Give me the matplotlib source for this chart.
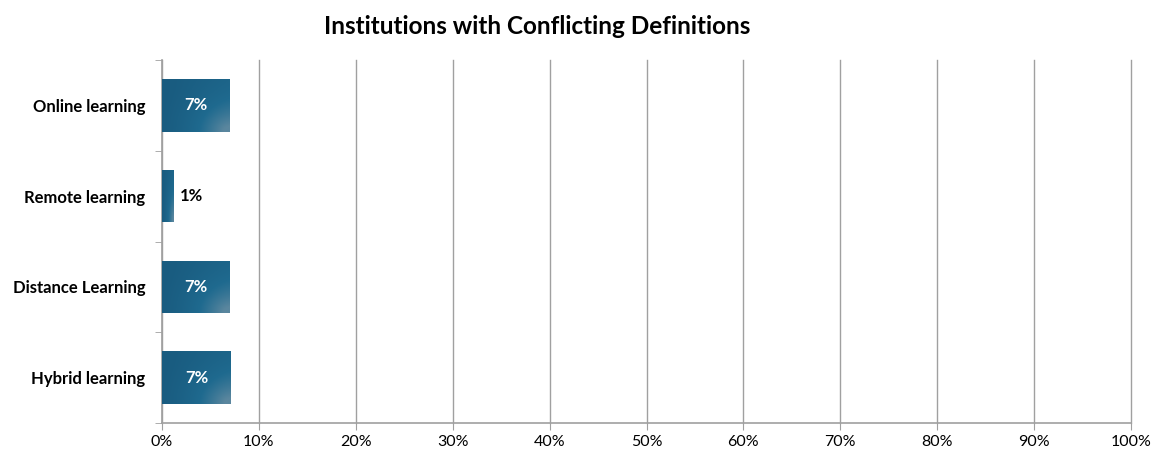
import matplotlib.pyplot as plt
import numpy as np
from matplotlib.colors import LinearSegmentedColormap

categories = ['Online learning', 'Remote learning', 'Distance Learning', 'Hybrid learning']
values = [7.0, 1.2, 7.0, 7.1]
labels = ['7%', '1%', '7%', '7%']

plt.rcParams['font.family'] = ['Lato', 'DejaVu Sans']

fig = plt.figure(figsize=(11.54, 4.53), dpi=100)
ax = fig.add_axes([162/1154, 30/453, 969/1154, 363/453])

y = np.arange(len(categories))
bars = ax.barh(y, values, height=0.58, color='#1f6388', zorder=3)

# gradient: darker to the left, soft lighter glow toward bottom-right corner
cmap = LinearSegmentedColormap.from_list('g', ['#195b7f', '#1f6a8f', '#5a869e'])
for b in bars:
    x0, y0 = b.get_x(), b.get_y()
    w, h = b.get_width(), b.get_height()
    gx, gy = np.meshgrid(np.linspace(0, 1, 60), np.linspace(0, 1, 60))
    d = np.sqrt((1 - gx) ** 2 + (1 - gy) ** 2)
    g = np.clip(1 - d / 1.3, 0, 1) ** 2.2 * 0.85 + gx * 0.3
    im = ax.imshow(g, extent=[x0, x0 + w, y0 + h, y0], origin='upper', cmap=cmap,
                   vmin=0, vmax=1, aspect='auto', zorder=3.5, interpolation='bilinear')
    im.set_clip_path(b)

for i, (v, lab) in enumerate(zip(values, labels)):
    if v > 3:
        ax.text(v / 2, i, lab, ha='center', va='center', color='white',
                fontsize=12, fontweight='bold', zorder=5)
    else:
        ax.text(v + 0.6, i, lab, ha='left', va='center', color='black',
                fontsize=12, fontweight='bold', zorder=5)

ax.set_xlim(0, 100)
ax.set_ylim(len(categories) - 0.5, -0.5)
ax.set_xticks(np.arange(0, 101, 10))
ax.set_xticklabels([f'{t}%' for t in range(0, 101, 10)], fontsize=11.5)
ax.set_yticks(y)
ax.set_yticklabels(categories, fontsize=12, fontweight='bold')
ax.tick_params(axis='y', length=0, pad=12)
ax.set_yticks(np.arange(-0.5, len(categories) + 0.5, 1), minor=True)
ax.tick_params(axis='y', which='minor', length=5, color='#a0a0a0')
ax.tick_params(axis='x', length=5, color='#a0a0a0', pad=4)
ax.grid(axis='x', color='#a0a0a0', linewidth=1, zorder=0)
for gl in ax.get_xgridlines():
    gl.set_clip_on(False)
ax.set_axisbelow(True)
for s in ['top', 'right']:
    ax.spines[s].set_visible(False)
for s in ['left', 'bottom']:
    ax.spines[s].set_color('#a0a0a0')
    ax.spines[s].set_linewidth(1.2)

fig.text(537/1154, 1 - 27/453, 'Institutions with Conflicting Definitions',
         ha='center', va='center', fontsize=17.5, fontweight='bold')

fig.savefig('out.png', dpi=100, facecolor='white')
